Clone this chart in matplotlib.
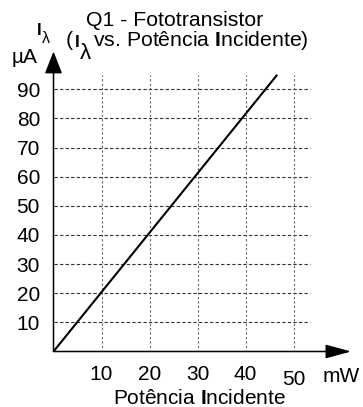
import matplotlib
matplotlib.use('Agg')
import matplotlib.pyplot as plt
import matplotlib.transforms as mtransforms

plt.rcParams['font.family'] = ['Liberation Sans', 'DejaVu Sans']
plt.rcParams['mathtext.fontset'] = 'custom'
plt.rcParams['mathtext.rm'] = 'Liberation Sans'
plt.rcParams['mathtext.it'] = 'Liberation Sans'
plt.rcParams['mathtext.bf'] = 'Liberation Sans:bold'

# dados
potencia = [0, 46.6]       # mW
corrente = [0, 95]         # uA
xticks = [10, 20, 30, 40, 50]
yticks = [10, 20, 30, 40, 50, 60, 70, 80, 90]

W, H = 363, 407
fig = plt.figure(figsize=(W/100, H/100), dpi=100)
ax = fig.add_axes([53.5/W, 1 - 351.5/H, 297.6/W, 300/H])
ax.set_xlim(0, 62)
ax.set_ylim(0, 103)
for s in ax.spines.values():
    s.set_visible(False)

# grade
ax.hlines(yticks, 0, 53.4, colors='#333333', lw=0.8, linestyles=(0, (3, 2)))
ax.vlines(xticks, 0, 95, colors='#666666', lw=0.8, linestyles=(0, (2, 2)))

# eixos com setas
ax.annotate('', xy=(0, 103), xytext=(0, 0),
            arrowprops=dict(arrowstyle='-|>,head_length=1.37,head_width=0.54',
                            mutation_scale=10, lw=1.1, color='black',
                            shrinkA=0, shrinkB=0), annotation_clip=False)
ax.annotate('', xy=(62, 0), xytext=(0, 0),
            arrowprops=dict(arrowstyle='-|>,head_length=1.58,head_width=0.43',
                            mutation_scale=10, lw=1.1, color='black',
                            shrinkA=0, shrinkB=0), annotation_clip=False)

ax.plot(potencia, corrente, color='black', lw=1.5, solid_capstyle='butt')

ax.set_xticks(xticks)
ax.set_yticks(yticks)
ax.tick_params(length=0, labelsize=15, colors='black')
ax.tick_params(axis='y', pad=9.7)
ax.tick_params(axis='x', pad=10)
lbl = ax.get_xticklabels()[-1]
lbl.set_transform(lbl.get_transform() +
                  mtransforms.ScaledTranslation(0, -3/72, fig.dpi_scale_trans))

def ftext(x, y, s, **kw):
    # posicao em pixels a partir do canto superior esquerdo
    kw.setdefault('va', 'baseline')
    kw.setdefault('ha', 'left')
    kw.setdefault('fontsize', 15.3)
    return fig.text(x/W, 1 - y/H, s, **kw)

ftext(175, 21, 'Q1 - Fototransistor', ha='center', va='center')
# (I_lambda vs. Potencia Incidente)
ftext(66, 46, '(')
ftext(74.5, 47, 'I', fontsize=12.5, fontweight='bold')
ftext(80, 59, 'λ', fontsize=16)
ftext(93, 46, r'vs. Potência $\mathbf{I}$ncidente)')
# rotulo do eixo y
ftext(36.5, 35, 'I', fontsize=12, fontweight='bold')
ftext(42, 43, 'λ', fontsize=11.5)
ftext(12, 63, 'µA', fontsize=15)
ftext(323, 382, 'mW', fontsize=15)
ftext(199, 404, r'Potência $\mathbf{I}$ncidente', ha='center', fontsize=15)

fig.savefig('out.png', dpi=100)
